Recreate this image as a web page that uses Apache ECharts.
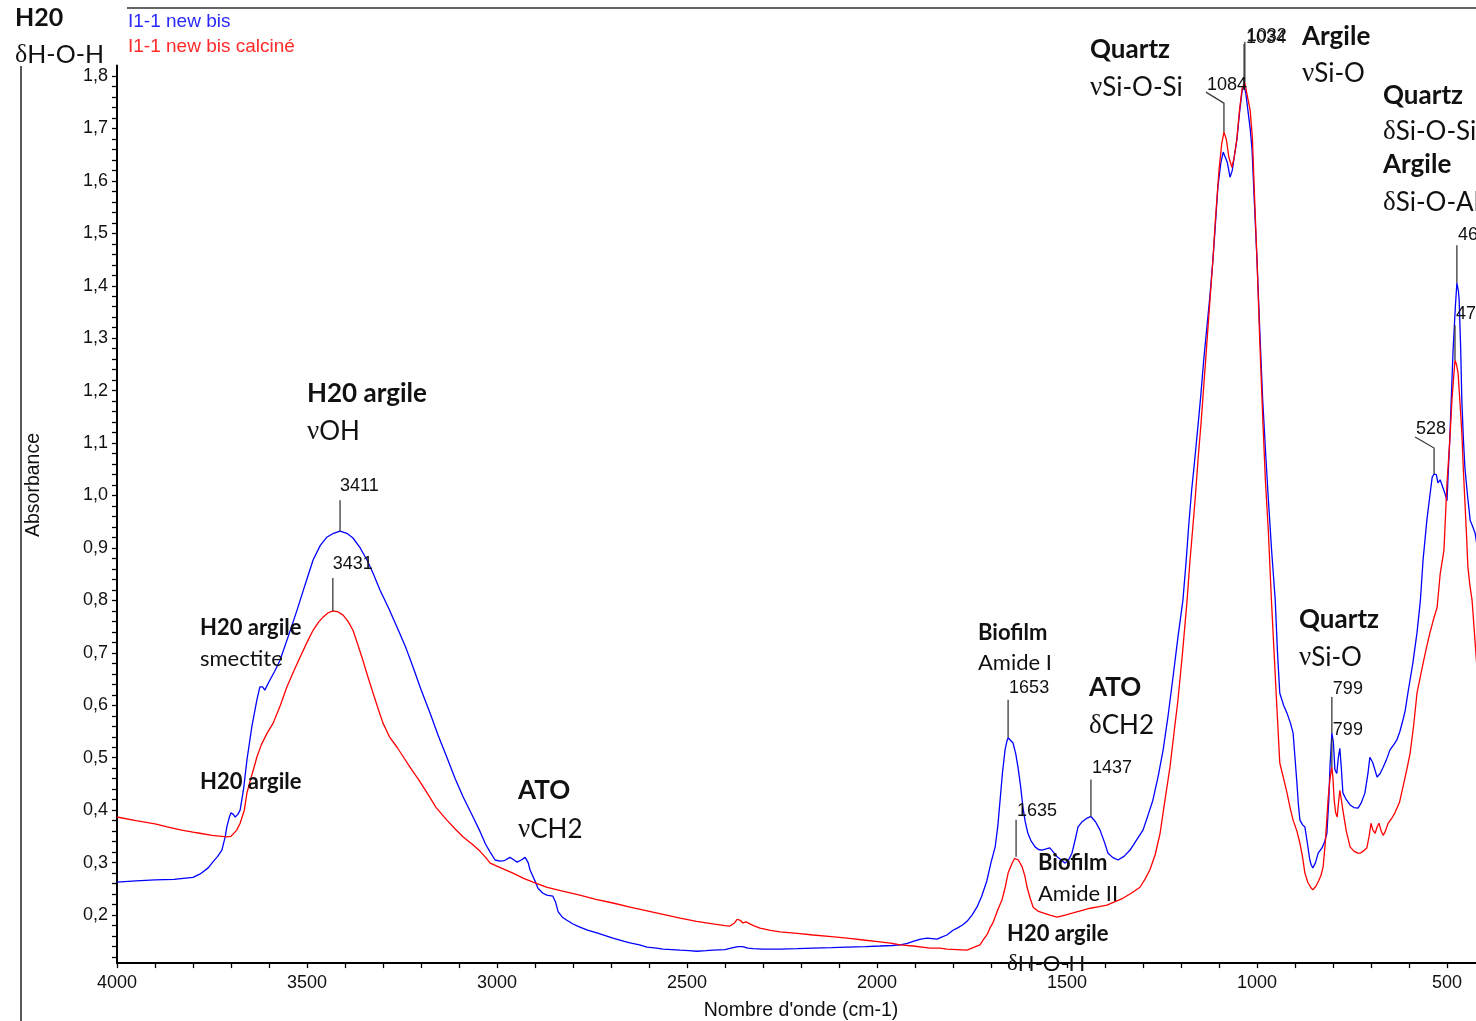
<!DOCTYPE html>
<html><head><meta charset="utf-8">
<script src="https://cdn.jsdelivr.net/npm/echarts@6/dist/echarts.min.js"></script>
<style>html,body{margin:0;padding:0;background:#fff;overflow:hidden}#c{width:1476px;height:1021px}</style>
</head><body><div id="c"></div>
<script>
// ---------- DATA ----------
const seriesNames = ['I1-1 new bis', 'I1-1 new bis calciné'];

const spectrumBlue = [
[4000,0.263],[3950,0.265],[3900,0.267],[3850,0.268],[3800,0.272],[3782,0.278],[3760,0.29],[3747,0.302],[3735,0.312],[3724,0.324],
[3715,0.35],[3711,0.368],[3705,0.385],[3700,0.395],[3694,0.392],[3689,0.387],[3682,0.392],[3676,0.40],[3667,0.44],[3658,0.496],
[3645,0.56],[3632,0.61],[3624,0.635],[3617,0.635],[3611,0.629],[3600,0.645],[3585,0.665],[3571,0.686],[3550,0.73],[3526,0.782],
[3505,0.83],[3484,0.877],[3465,0.905],[3447,0.921],[3430,0.928],[3413,0.932],[3395,0.928],[3379,0.919],[3360,0.90],[3342,0.877],
[3325,0.85],[3308,0.82],[3285,0.785],[3263,0.749],[3240,0.71],[3221,0.673],[3200,0.63],[3176,0.585],[3155,0.543],[3132,0.501],
[3110,0.46],[3089,0.425],[3065,0.39],[3045,0.36],[3030,0.335],[3018,0.32],[3005,0.305],[2992,0.303],[2980,0.304],[2966,0.31],
[2955,0.305],[2947,0.301],[2936,0.305],[2926,0.31],[2918,0.30],[2913,0.286],[2900,0.265],[2892,0.251],[2880,0.242],[2869,0.238],
[2853,0.236],[2846,0.225],[2839,0.206],[2828,0.196],[2816,0.19],[2800,0.183],[2782,0.177],[2760,0.171],[2737,0.166],[2715,0.161],
[2695,0.156],[2670,0.151],[2650,0.147],[2625,0.143],[2605,0.139],[2580,0.137],[2563,0.135],[2540,0.134],[2518,0.133],[2495,0.132],
[2474,0.131],[2450,0.132],[2432,0.133],[2400,0.134],[2379,0.138],[2365,0.140],[2360,0.139],[2353,0.140],[2340,0.137],[2326,0.136],
[2300,0.135],[2255,0.135],[2210,0.136],[2168,0.137],[2120,0.138],[2079,0.139],[2030,0.140],[1992,0.141],[1960,0.142],[1939,0.143],
[1920,0.146],[1905,0.150],[1885,0.154],[1868,0.156],[1855,0.155],[1842,0.154],[1830,0.158],[1816,0.162],[1800,0.171],[1789,0.175],
[1775,0.181],[1763,0.188],[1750,0.200],[1737,0.215],[1725,0.235],[1711,0.265],[1700,0.30],[1689,0.33],[1682,0.37],[1676,0.42],
[1670,0.47],[1663,0.515],[1658,0.532],[1655,0.538],[1650,0.536],[1642,0.528],[1635,0.508],[1629,0.482],[1622,0.445],[1616,0.406],
[1610,0.378],[1603,0.356],[1595,0.342],[1584,0.33],[1575,0.325],[1566,0.324],[1555,0.326],[1545,0.328],[1538,0.322],[1526,0.311],
[1515,0.305],[1505,0.299],[1496,0.305],[1487,0.318],[1478,0.345],[1471,0.368],[1460,0.378],[1447,0.385],[1437,0.388],[1425,0.378],
[1413,0.362],[1402,0.34],[1392,0.318],[1380,0.31],[1366,0.305],[1350,0.312],[1334,0.324],[1318,0.342],[1300,0.362],[1287,0.39],
[1274,0.419],[1260,0.465],[1247,0.515],[1234,0.58],[1221,0.654],[1208,0.73],[1195,0.80],[1187,0.87],[1180,0.94],[1172,1.01],
[1165,1.06],[1157,1.12],[1148,1.19],[1140,1.26],[1132,1.32],[1124,1.38],[1116,1.449],[1111,1.50],[1103,1.588],[1095,1.635],
[1089,1.655],[1084,1.658],[1078,1.635],[1071,1.607],[1065,1.62],[1060,1.645],[1053,1.678],[1046,1.73],[1039,1.773],[1034,1.783],
[1029,1.765],[1024,1.735],[1018,1.70],[1013,1.659],[1007,1.56],[1000,1.449],[993,1.32],[985,1.182],[978,1.09],[970,0.991],
[961,0.89],[952,0.80],[946,0.70],[940,0.623],[930,0.60],[921,0.585],[912,0.566],[905,0.547],[900,0.50],[895,0.452],
[891,0.41],[887,0.381],[880,0.372],[874,0.368],[867,0.335],[861,0.305],[857,0.295],[853,0.29],[846,0.30],[839,0.318],
[829,0.328],[822,0.34],[816,0.356],[811,0.42],[808,0.482],[803,0.547],[799,0.53],[795,0.477],[790,0.47],[786,0.50],
[782,0.518],[778,0.48],[774,0.433],[765,0.42],[755,0.41],[745,0.405],[734,0.404],[725,0.415],[716,0.433],[708,0.47],
[703,0.501],[695,0.49],[684,0.463],[676,0.47],[668,0.482],[660,0.495],[650,0.515],[640,0.525],[632,0.534],[624,0.55],
[616,0.572],[610,0.59],[603,0.623],[590,0.68],[579,0.738],[570,0.80],[563,0.877],[553,0.953],[545,1.00],[539,1.035],
[534,1.041],[528,1.04],[524,1.024],[518,1.03],[513,1.03],[506,1.005],[500,0.99],[492,1.12],[484,1.277],[478,1.36],
[474,1.405],[470,1.39],[468,1.373],[464,1.28],[461,1.182],[457,1.11],[453,1.054],[446,1.00],[439,0.953],[432,0.94],
[426,0.928],[420,0.90]
];

const spectrumRed = [
[4000,0.387],[3950,0.38],[3900,0.374],[3868,0.368],[3830,0.362],[3800,0.358],[3782,0.356],[3750,0.352],[3711,0.349],[3700,0.35],
[3695,0.352],[3685,0.362],[3676,0.375],[3665,0.40],[3658,0.433],[3650,0.455],[3640,0.48],[3632,0.501],[3620,0.525],[3605,0.547],
[3589,0.566],[3570,0.60],[3553,0.635],[3535,0.665],[3518,0.692],[3500,0.72],[3484,0.743],[3470,0.758],[3458,0.768],[3445,0.776],
[3432,0.78],[3418,0.778],[3405,0.772],[3392,0.76],[3379,0.743],[3366,0.715],[3353,0.686],[3340,0.655],[3326,0.623],[3313,0.594],
[3300,0.566],[3283,0.54],[3263,0.52],[3245,0.50],[3229,0.482],[3205,0.457],[3184,0.433],[3160,0.405],[3132,0.381],[3110,0.364],
[3089,0.349],[3065,0.335],[3045,0.322],[3030,0.31],[3018,0.299],[2990,0.29],[2958,0.28],[2930,0.27],[2905,0.263],[2868,0.253],
[2830,0.246],[2782,0.238],[2740,0.23],[2695,0.223],[2650,0.215],[2605,0.208],[2560,0.201],[2518,0.194],[2475,0.188],[2432,0.183],
[2400,0.180],[2387,0.179],[2375,0.185],[2368,0.192],[2360,0.19],[2353,0.185],[2345,0.187],[2340,0.187],[2325,0.18],[2308,0.175],
[2280,0.171],[2255,0.168],[2210,0.165],[2168,0.162],[2120,0.159],[2079,0.156],[2030,0.152],[1992,0.149],[1960,0.146],[1939,0.143],
[1905,0.141],[1861,0.137],[1834,0.137],[1816,0.135],[1790,0.134],[1763,0.133],[1747,0.138],[1729,0.143],[1721,0.152],[1710,0.163],
[1703,0.175],[1695,0.185],[1682,0.21],[1671,0.229],[1662,0.255],[1655,0.28],[1645,0.298],[1638,0.308],[1634,0.311],[1628,0.305],
[1618,0.292],[1611,0.275],[1605,0.253],[1597,0.232],[1589,0.215],[1575,0.207],[1563,0.204],[1545,0.20],[1526,0.196],[1505,0.20],
[1484,0.204],[1460,0.209],[1439,0.213],[1415,0.216],[1395,0.219],[1375,0.225],[1353,0.232],[1330,0.242],[1308,0.253],[1295,0.268],
[1282,0.286],[1268,0.315],[1255,0.356],[1242,0.42],[1229,0.482],[1218,0.55],[1208,0.61],[1196,0.70],[1184,0.80],[1177,0.87],
[1170,0.93],[1162,1.00],[1155,1.07],[1147,1.14],[1140,1.21],[1132,1.29],[1124,1.37],[1116,1.449],[1110,1.52],[1100,1.62],
[1093,1.67],[1087,1.693],[1081,1.68],[1074,1.645],[1066,1.626],[1060,1.645],[1053,1.68],[1046,1.735],[1039,1.777],[1032,1.787],
[1025,1.76],[1018,1.735],[1012,1.68],[1007,1.58],[1000,1.449],[993,1.30],[985,1.15],[978,1.03],[970,0.93],[962,0.80],
[955,0.70],[948,0.60],[940,0.49],[930,0.46],[921,0.433],[913,0.405],[905,0.381],[895,0.36],[887,0.337],[880,0.31],
[874,0.28],[866,0.262],[858,0.252],[853,0.248],[845,0.255],[838,0.265],[832,0.275],[826,0.292],[820,0.34],[813,0.42],
[808,0.46],[803,0.482],[800,0.46],[797,0.42],[793,0.395],[789,0.387],[786,0.41],[782,0.438],[778,0.42],[774,0.40],
[765,0.36],[755,0.33],[745,0.322],[735,0.318],[729,0.318],[720,0.322],[711,0.328],[705,0.35],[700,0.375],[695,0.362],
[689,0.356],[684,0.368],[679,0.375],[673,0.36],[668,0.352],[662,0.36],[655,0.375],[645,0.385],[637,0.395],[625,0.415],
[616,0.444],[605,0.48],[597,0.509],[588,0.56],[579,0.623],[570,0.655],[563,0.68],[554,0.71],[545,0.738],[535,0.765],
[526,0.787],[518,0.85],[508,0.896],[500,1.024],[493,1.10],[487,1.182],[482,1.23],[479,1.258],[475,1.25],[471,1.234],
[466,1.18],[461,1.12],[457,1.05],[453,0.99],[449,0.93],[445,0.864],[440,0.83],[434,0.80],[428,0.74],[420,0.66]
];

// peak annotations: label, wavenumber, absorbance
const peakLabels = ['3411','3431','1653','1635','1437','1084','1034','1032','799','799','528','468','476'];
const peakWn     = [3413, 3432, 1655, 1634, 1437, 1087, 1034, 1032, 803, 803, 534, 474, 479];
const peakAbs    = [0.932,0.78, 0.538,0.311,0.388,1.693,1.783,1.787,0.547,0.482,1.041,1.405,1.258];

// axis ticks and labels
const yTickValues = [];
for (let k = 6; k <= 90; k++) yTickValues.push(+(k * 0.02).toFixed(2));          // 0.12 … 1.80
const yLabelValues = [0.2,0.3,0.4,0.5,0.6,0.7,0.8,0.9,1.0,1.1,1.2,1.3,1.4,1.5,1.6,1.7,1.8];
const xLabelStep = 500;

// ---------- CHART ----------
const chart = echarts.init(document.getElementById('c'), null, {renderer: 'canvas'});
const sans = 'Liberation Sans, Arial, sans-serif';
const cal = 'Lato, Open Sans, sans-serif';

chart.setOption({
  animation: false,
  backgroundColor: '#fff',
  grid: {left: 117, top: 65.5, width: 1368, height: 897.6, containLabel: false, outerBoundsMode: 'none'},
  legend: {
    orient: 'vertical', left: 118, top: 7, itemGap: 6, icon: 'none', itemWidth: 0, itemHeight: 10,
    textStyle: {fontFamily: sans, fontSize: 19, padding: 0},
    data: [
      {name: seriesNames[0], textStyle: {color: '#2a2aff'}},
      {name: seriesNames[1], textStyle: {color: '#ff2a2a'}}
    ]
  },
  xAxis: {
    type: 'value', inverse: true, min: 400, max: 4000, interval: 100,
    axisLine: {lineStyle: {color: '#000', width: 2}},
    axisTick: {length: 5, lineStyle: {color: '#000', width: 1.3}},
    splitLine: {show: false},
    axisLabel: {
      fontFamily: sans, fontSize: 18, color: '#111', margin: 11,
      formatter: v => (Math.abs(v % xLabelStep) < 1e-6 ? String(v) : '')
    },
    name: "Nombre d'onde (cm-1)", nameLocation: 'middle', nameGap: 38,
    nameTextStyle: {fontFamily: sans, fontSize: 19.5, color: '#111'}
  },
  yAxis: {
    type: 'value', min: 0.1084, max: 1.82,
    axisLine: {show: true, lineStyle: {color: '#000', width: 2}},
    axisTick: {show: true, length: 5, customValues: yTickValues, lineStyle: {color: '#000', width: 1.3}},
    splitLine: {show: false},
    axisLabel: {
      fontFamily: sans, fontSize: 18, color: '#111', margin: 9, customValues: yLabelValues,
      formatter: v => v.toFixed(1).replace('.', ',')
    }
  },
  series: [
    {name: seriesNames[0], type: 'line', data: spectrumBlue, showSymbol: false, symbol: 'none',
     lineStyle: {color: '#0000ff', width: 1.3}, itemStyle: {color: '#0000ff'}, z: 2},
    {name: seriesNames[1], type: 'line', data: spectrumRed, showSymbol: false, symbol: 'none',
     lineStyle: {color: '#ff0000', width: 1.3}, itemStyle: {color: '#ff0000'}, z: 3}
  ]
});

// ---------- ANNOTATIONS ----------
const g = [];
g.push({type: 'line', shape: {x1: 127, y1: 8, x2: 1476, y2: 8}, style: {stroke: '#333', lineWidth: 1.5}, z: 10});
g.push({type: 'line', shape: {x1: 21, y1: 66, x2: 21, y2: 1021}, style: {stroke: '#222', lineWidth: 1.5}, z: 10});
g.push({type: 'text', x: 34, y: 485, rotation: Math.PI / 2,
  style: {text: 'Absorbance', fontFamily: sans, fontSize: 19.5, fill: '#111', align: 'center', verticalAlign: 'middle'}, z: 10});

// leader layouts: rise, diag dx, diag dy, text dx, text dy
const leaderLayout = [
  [31,0,0,0,-14],[33,0,0,0,-14],[38,0,0,1,-12],[37,0,0,1,-9],[37,0,0,1,-11],
  [29,-18,-11,1,-7],[41,0,0,2,-6],[41,0,0,2,-6],[36,0,0,1,-8],[29,0,0,1,-8],
  [26,-19,-11,1,-8],[38,0,0,1,-10],[35,0,0,1,-11]
];
peakLabels.forEach((lab, i) => {
  const p = chart.convertToPixel({gridIndex: 0}, [peakWn[i], peakAbs[i]]);
  const L = leaderLayout[i];
  const pts = [[p[0], p[1]], [p[0], p[1] - L[0]]];
  if (L[1] || L[2]) pts.push([p[0] + L[1], p[1] - L[0] + L[2]]);
  const end = pts[pts.length - 1];
  g.push({type: 'polyline', shape: {points: pts}, style: {stroke: '#3a3a3a', lineWidth: 1.3, fill: null}, z: 11});
  g.push({type: 'text', x: end[0] + L[3], y: end[1] + L[4],
    style: {text: lab, fontFamily: sans, fontSize: 18, fill: '#111', align: 'left', verticalAlign: 'middle'}, z: 12});
});

function greekText(s) {
  const c = s.charAt(0);
  if (c === 'ν' || c === 'δ') return '{g|' + c + '}' + s.slice(1);
  return s;
}
function ann(x, y1, y2, boldTxt, regTxt, size) {
  if (boldTxt) g.push({type: 'text', x: x, y: y1,
    style: {text: boldTxt, fontFamily: cal, fontWeight: 'bold', fontSize: size, fill: '#111', align: 'left', verticalAlign: 'middle'}, z: 13});
  if (regTxt) g.push({type: 'text', x: x, y: y2,
    style: {text: greekText(regTxt), fontFamily: cal, fontSize: size, fill: '#111', align: 'left', verticalAlign: 'middle',
      rich: {g: {fontFamily: 'Liberation Serif, DejaVu Serif, serif', fontSize: size + 1, fill: '#111'}}}, z: 13});
}
ann(15, 18, 55, 'H20', 'δH-O-H', 25);
ann(307, 394, 432, 'H20 argile', 'νOH', 26);
ann(200, 628, 659, 'H20 argile', 'smectite', 22);
ann(200, 782, 0, 'H20 argile', '', 22);
ann(518, 791, 830, 'ATO', 'νCH2', 26);
ann(978, 633, 663, 'Biofilm', 'Amide I', 22);
ann(1089, 688, 726, 'ATO', 'δCH2', 26);
ann(1038, 863, 894, 'Biofilm', 'Amide II', 22);
ann(1007, 934, 964, 'H20 argile', 'δH-O-H', 22);
ann(1090, 50, 88, 'Quartz', 'νSi-O-Si', 26);
ann(1302, 37, 74, 'Argile', 'νSi-O', 26);
ann(1383, 96, 132, 'Quartz', 'δSi-O-Si', 26);
ann(1383, 165, 203, 'Argile', 'δSi-O-Al', 26);
ann(1299, 620, 658, 'Quartz', 'νSi-O', 26);

chart.setOption({graphic: g});
</script></body></html>
